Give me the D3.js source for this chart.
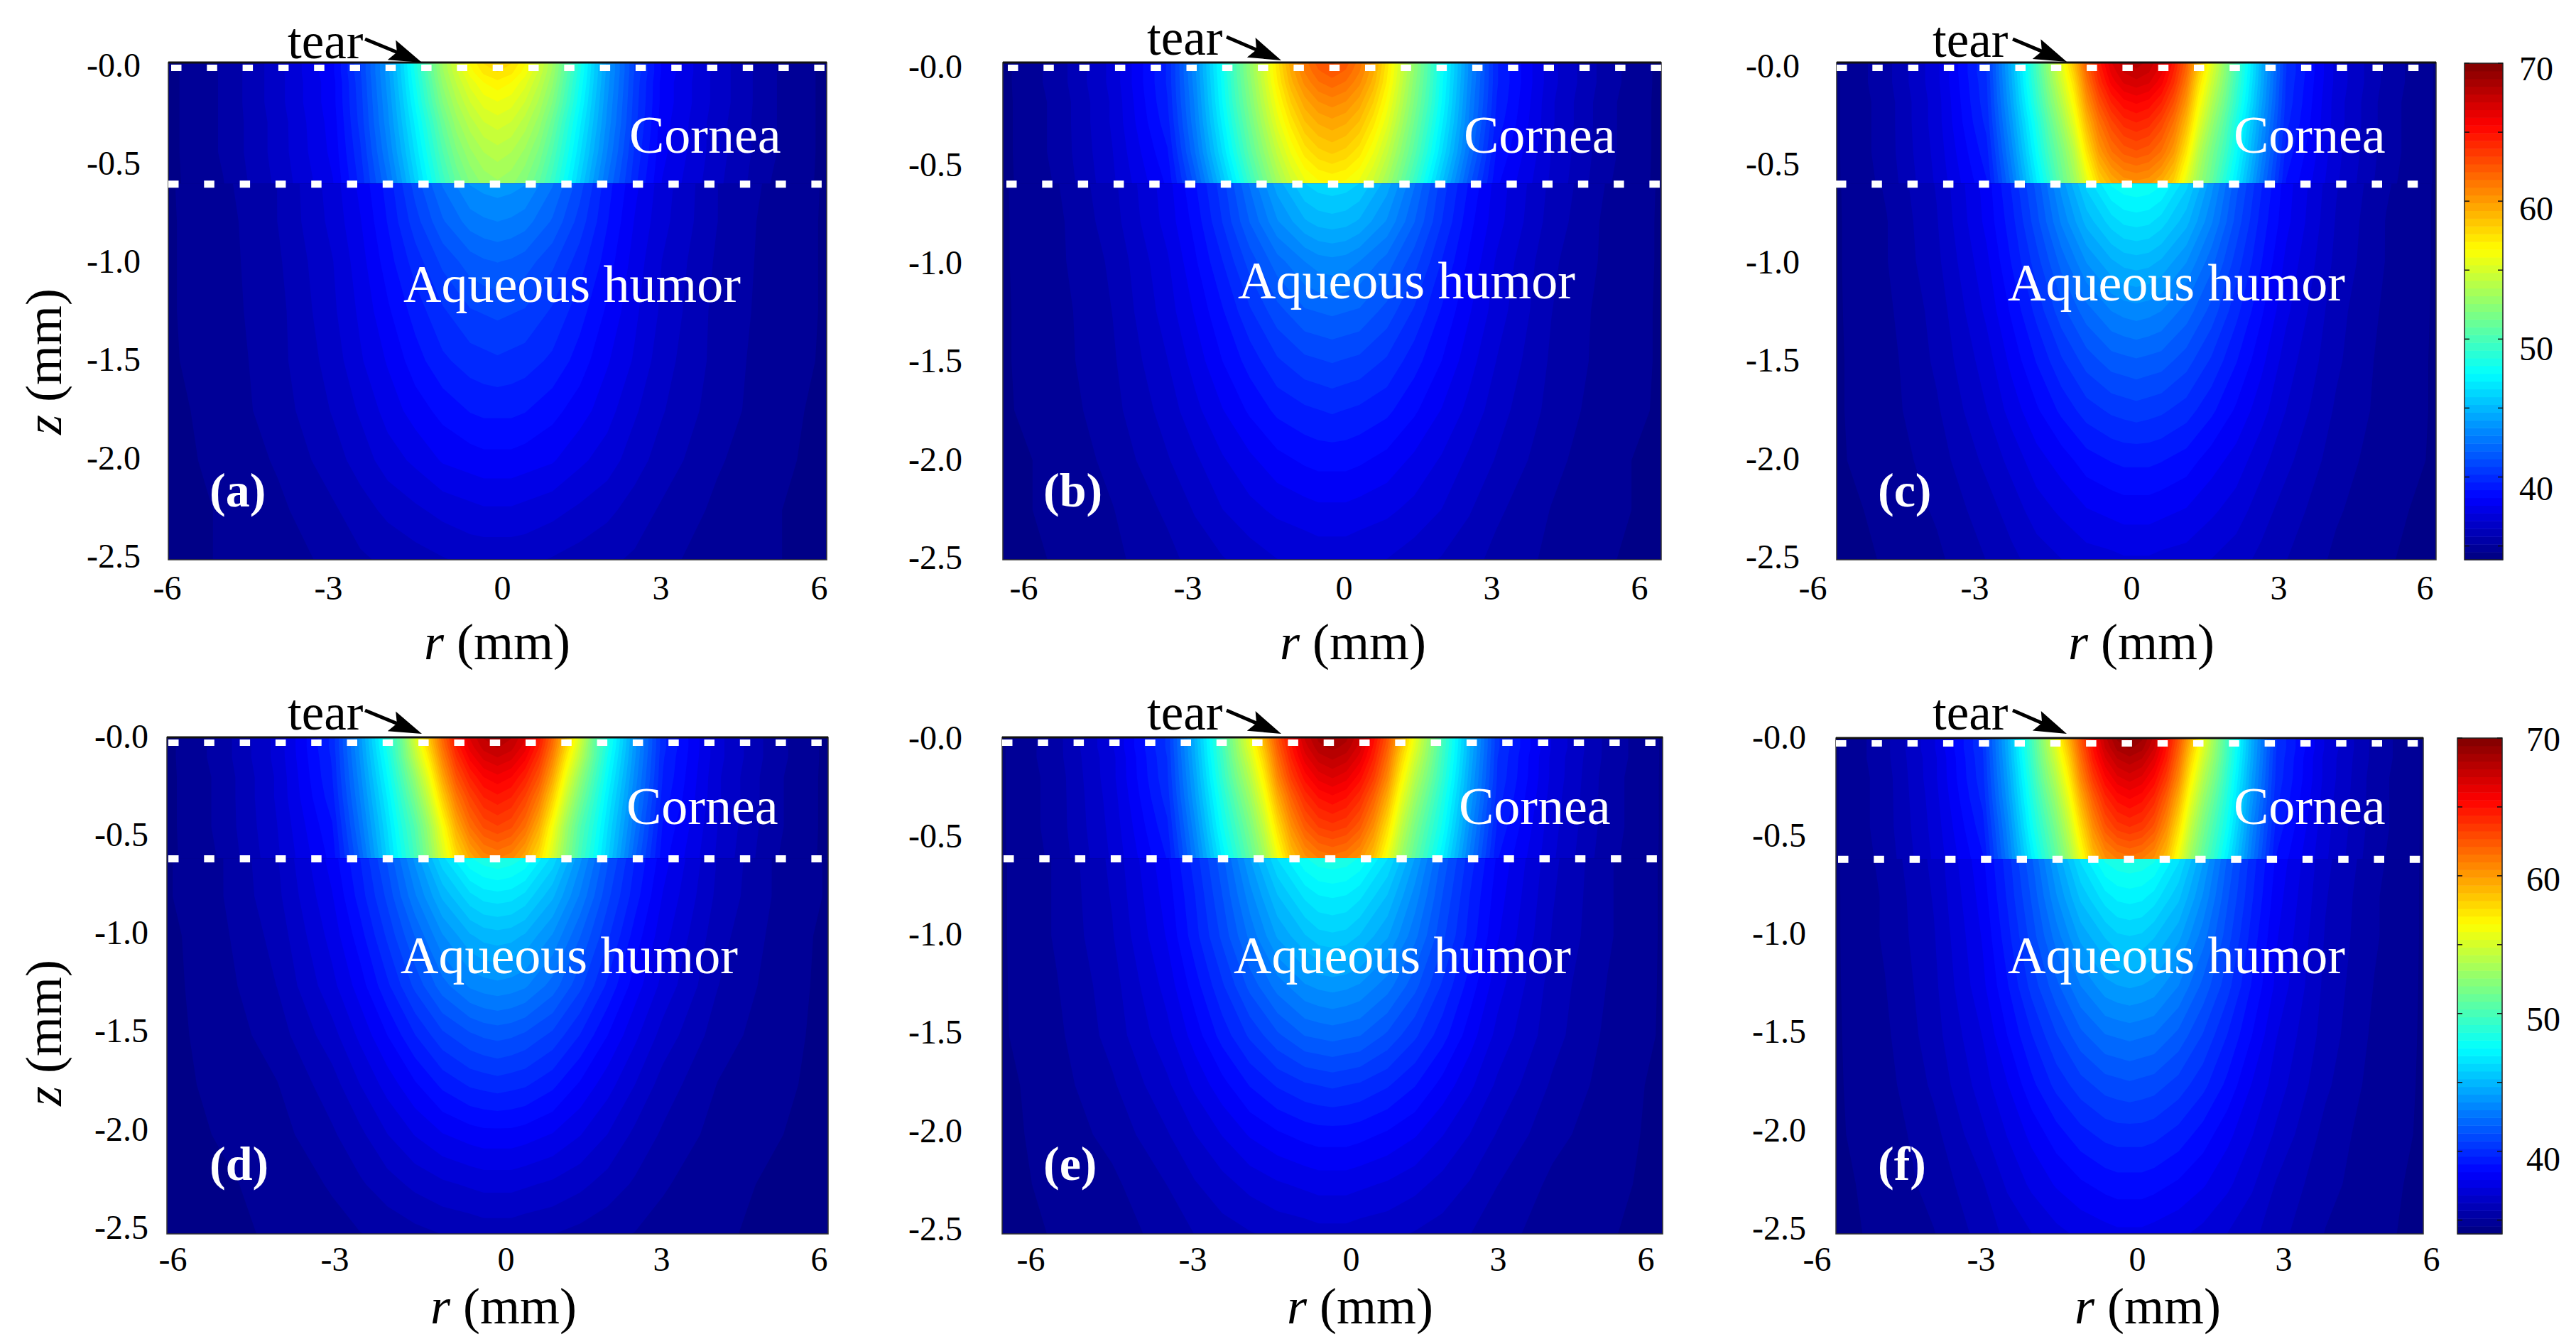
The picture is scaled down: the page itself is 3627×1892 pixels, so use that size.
<!DOCTYPE html>
<meta charset="utf-8">
<script src="https://d3js.org/d3.v7.min.js"></script>
<style>
    html, body { margin: 0; background: #fff; }
    text { font-family: 'Liberation Serif', serif; fill: #000; }
</style>
<div id="my_dataviz"></div>
<script>
// radial positions (mm, only r >= 0, the field is mirrored about r = 0) and depths (mm)
const rCornea = [0, .25, .5, .75, 1, 1.25, 1.5, 1.75, 2, 2.5, 3, 4, 5, 6];
const zCornea = [0, .05, .1, .2, .3, .45, .61];
const rAqueous = [0, .25, .5, 1, 1.5, 2, 2.5, 3, 4, 5, 6];
const zAqueous = [.61, .8, 1, 1.25, 1.5, 1.75, 2, 2.25, 2.5];

// temperatures, one row per depth, one value per radius
const corneaA = [
    [58.2, 57.7, 56.6, 55.0, 53.2, 50.8, 48.4, 46.0, 43.9, 40.7, 38.4, 36.6, 35.2, 34.4],
    [57.6, 57.2, 56.2, 54.7, 53.0, 50.6, 48.2, 45.9, 43.9, 40.7, 38.4, 36.6, 35.2, 34.4],
    [56.9, 56.5, 55.6, 54.3, 52.7, 50.3, 48.0, 45.8, 43.8, 40.6, 38.3, 36.6, 35.2, 34.4],
    [55.9, 55.6, 54.8, 53.6, 52.0, 49.8, 47.6, 45.5, 43.6, 40.5, 38.3, 36.6, 35.2, 34.4],
    [55.1, 54.8, 54.0, 52.9, 51.2, 49.1, 47.1, 45.2, 43.4, 40.4, 38.2, 36.5, 35.2, 34.4],
    [54.0, 53.7, 53.0, 51.9, 50.3, 48.4, 46.5, 44.7, 43.0, 40.1, 38.1, 36.5, 35.2, 34.4],
    [53.0, 52.7, 52.0, 50.9, 49.4, 47.6, 45.8, 44.0, 42.4, 39.8, 37.9, 36.4, 35.1, 34.4]
];
const aqueousA = [
    [43.9, 43.8, 43.6, 42.5, 41.0, 39.3, 38.1, 37.1, 35.7, 35.0, 34.5],
    [43.0, 42.9, 42.7, 41.8, 40.5, 39.1, 37.9, 37.0, 35.7, 34.9, 34.5],
    [41.9, 41.8, 41.6, 40.9, 39.9, 38.8, 37.7, 36.8, 35.6, 34.9, 34.5],
    [40.9, 40.8, 40.7, 40.1, 39.3, 38.4, 37.5, 36.7, 35.5, 34.9, 34.5],
    [40.1, 40.0, 39.9, 39.5, 38.8, 38.0, 37.3, 36.5, 35.5, 34.8, 34.5],
    [39.2, 39.2, 39.1, 38.7, 38.2, 37.6, 36.9, 36.3, 35.4, 34.8, 34.4],
    [38.3, 38.3, 38.2, 38.0, 37.5, 37.1, 36.5, 36.0, 35.2, 34.7, 34.4],
    [37.3, 37.3, 37.2, 37.0, 36.7, 36.4, 36.0, 35.6, 35.0, 34.6, 34.4],
    [36.4, 36.4, 36.4, 36.2, 36.0, 35.8, 35.6, 35.3, 34.8, 34.6, 34.4]
];
const corneaB = [
    [62.8, 62.4, 61.3, 59.7, 57.4, 54.9, 52.6, 50.3, 47.9, 43.4, 39.7, 37.0, 35.4, 34.4],
    [62.4, 62.0, 61.0, 59.4, 57.2, 54.8, 52.5, 50.2, 47.8, 43.4, 39.7, 37.0, 35.4, 34.4],
    [61.9, 61.5, 60.6, 59.1, 57.0, 54.6, 52.3, 50.1, 47.7, 43.3, 39.7, 37.0, 35.4, 34.4],
    [60.7, 60.4, 59.6, 58.2, 56.3, 54.1, 51.9, 49.8, 47.5, 43.1, 39.6, 36.9, 35.3, 34.4],
    [59.7, 59.4, 58.7, 57.3, 55.6, 53.5, 51.4, 49.3, 47.1, 42.9, 39.4, 36.9, 35.3, 34.4],
    [58.3, 58.0, 57.3, 56.0, 54.4, 52.5, 50.6, 48.5, 46.4, 42.4, 39.0, 36.8, 35.3, 34.4],
    [56.5, 56.3, 55.7, 54.6, 53.1, 51.3, 49.4, 47.3, 45.3, 41.5, 38.6, 36.7, 35.2, 34.4]
];
const aqueousB = [
    [46.2, 46.1, 45.8, 44.4, 42.5, 40.5, 39.0, 37.7, 36.1, 35.1, 34.5],
    [45.0, 44.9, 44.6, 43.5, 41.9, 40.2, 38.7, 37.6, 36.0, 35.0, 34.5],
    [43.4, 43.3, 43.0, 42.2, 41.0, 39.6, 38.4, 37.3, 35.8, 35.0, 34.5],
    [42.0, 41.9, 41.8, 41.1, 40.1, 39.0, 38.0, 37.1, 35.7, 34.9, 34.5],
    [40.8, 40.7, 40.6, 40.1, 39.3, 38.5, 37.6, 36.8, 35.6, 34.9, 34.5],
    [39.7, 39.6, 39.5, 39.2, 38.6, 37.9, 37.2, 36.5, 35.5, 34.8, 34.5],
    [38.7, 38.7, 38.6, 38.3, 37.8, 37.3, 36.7, 36.2, 35.3, 34.7, 34.4],
    [37.8, 37.8, 37.7, 37.5, 37.2, 36.8, 36.3, 35.8, 35.1, 34.7, 34.4],
    [37.0, 37.0, 36.9, 36.8, 36.5, 36.2, 35.9, 35.5, 35.0, 34.6, 34.4]
];
const corneaC = [
    [68.0, 67.6, 66.6, 64.7, 62.2, 58.8, 55.6, 52.8, 49.9, 44.8, 40.2, 37.2, 35.5, 34.5],
    [67.6, 67.2, 66.2, 64.3, 61.8, 58.2, 55.2, 52.6, 49.8, 44.7, 40.2, 37.2, 35.5, 34.5],
    [67.0, 66.7, 65.7, 63.9, 61.3, 57.6, 54.8, 52.3, 49.6, 44.6, 40.1, 37.2, 35.5, 34.5],
    [65.6, 65.3, 64.4, 62.7, 60.2, 56.6, 53.9, 51.6, 49.1, 44.3, 40.0, 37.1, 35.4, 34.5],
    [64.4, 64.1, 63.1, 61.5, 59.0, 55.6, 53.0, 50.8, 48.4, 43.9, 39.8, 37.1, 35.4, 34.5],
    [62.6, 62.3, 61.5, 60.0, 57.3, 54.0, 51.8, 49.9, 47.7, 43.3, 39.4, 37.0, 35.4, 34.5],
    [60.2, 60.0, 59.2, 57.9, 55.4, 52.9, 51.0, 48.8, 46.8, 42.6, 39.0, 36.9, 35.3, 34.5]
];
const aqueousC = [
    [48.0, 47.9, 47.6, 46.0, 43.8, 41.5, 39.7, 38.2, 36.3, 35.2, 34.5],
    [46.6, 46.5, 46.1, 44.9, 43.1, 41.1, 39.4, 38.1, 36.2, 35.1, 34.5],
    [45.0, 44.9, 44.6, 43.6, 42.1, 40.5, 39.1, 37.8, 36.1, 35.1, 34.5],
    [43.3, 43.2, 43.0, 42.2, 41.1, 39.8, 38.6, 37.5, 35.9, 35.0, 34.5],
    [41.8, 41.7, 41.6, 41.0, 40.1, 39.1, 38.1, 37.1, 35.8, 34.9, 34.5],
    [40.5, 40.4, 40.3, 39.9, 39.2, 38.4, 37.6, 36.8, 35.6, 34.9, 34.5],
    [39.2, 39.2, 39.1, 38.8, 38.2, 37.7, 37.0, 36.4, 35.4, 34.8, 34.5],
    [38.2, 38.2, 38.1, 37.9, 37.5, 37.1, 36.5, 36.0, 35.2, 34.7, 34.4],
    [37.3, 37.3, 37.2, 37.1, 36.8, 36.5, 36.1, 35.7, 35.0, 34.6, 34.4]
];
const corneaD = [
    [68.2, 67.8, 66.7, 64.8, 62.0, 58.4, 55.0, 51.2, 48.5, 43.8, 39.8, 37.0, 35.4, 34.4],
    [67.8, 67.4, 66.3, 64.4, 61.5, 57.9, 54.5, 51.0, 48.3, 43.7, 39.8, 37.0, 35.4, 34.4],
    [67.2, 66.8, 65.7, 63.8, 60.9, 57.2, 54.0, 50.8, 48.0, 43.6, 39.7, 37.0, 35.4, 34.4],
    [65.9, 65.5, 64.4, 62.6, 59.6, 55.8, 52.7, 50.0, 47.5, 43.3, 39.6, 36.9, 35.3, 34.4],
    [64.8, 64.4, 63.2, 61.3, 58.2, 54.6, 51.7, 49.3, 47.0, 43.0, 39.4, 36.9, 35.3, 34.4],
    [63.2, 62.8, 61.6, 59.4, 56.2, 53.0, 50.4, 48.5, 46.4, 42.5, 39.0, 36.8, 35.3, 34.4],
    [61.0, 60.6, 59.4, 57.6, 55.0, 52.2, 49.8, 47.9, 45.9, 41.9, 38.7, 36.7, 35.2, 34.4]
];
const aqueousD = [
    [48.6, 48.4, 48.0, 46.2, 43.7, 41.4, 39.6, 38.2, 36.2, 35.1, 34.5],
    [46.7, 46.6, 46.2, 44.8, 42.9, 40.9, 39.3, 37.9, 36.1, 35.1, 34.5],
    [45.0, 44.9, 44.6, 43.5, 41.9, 40.3, 38.8, 37.6, 35.9, 35.0, 34.4],
    [43.4, 43.3, 43.1, 42.2, 40.9, 39.5, 38.2, 37.2, 35.7, 34.9, 34.4],
    [41.5, 41.4, 41.2, 40.6, 39.6, 38.5, 37.5, 36.6, 35.4, 34.8, 34.4],
    [39.9, 39.8, 39.7, 39.2, 38.4, 37.6, 36.8, 36.0, 35.1, 34.7, 34.4],
    [38.3, 38.3, 38.2, 37.9, 37.4, 36.8, 36.1, 35.6, 34.9, 34.6, 34.4],
    [37.0, 37.0, 36.9, 36.7, 36.4, 36.0, 35.6, 35.2, 34.7, 34.5, 34.4],
    [35.9, 35.9, 35.8, 35.7, 35.5, 35.3, 35.1, 34.9, 34.6, 34.5, 34.4]
];
const corneaE = [
    [69.0, 68.5, 67.3, 65.2, 62.6, 59.2, 55.8, 52.8, 49.9, 44.8, 40.3, 37.3, 35.5, 34.5],
    [68.5, 68.1, 66.9, 64.8, 62.2, 58.6, 55.4, 52.6, 49.8, 44.7, 40.3, 37.3, 35.5, 34.5],
    [67.9, 67.5, 66.4, 64.4, 61.7, 58.0, 54.9, 52.3, 49.6, 44.6, 40.2, 37.2, 35.5, 34.5],
    [66.7, 66.3, 65.2, 63.4, 60.7, 56.9, 53.9, 51.6, 49.2, 44.3, 40.1, 37.2, 35.4, 34.5],
    [65.4, 65.0, 64.0, 62.1, 59.4, 55.8, 53.0, 50.8, 48.6, 44.0, 39.9, 37.1, 35.4, 34.5],
    [63.6, 63.3, 62.3, 60.4, 57.6, 54.3, 51.8, 49.8, 47.9, 43.4, 39.5, 37.0, 35.4, 34.5],
    [61.3, 61.0, 60.2, 58.6, 55.9, 53.0, 50.8, 48.9, 47.0, 42.8, 39.1, 36.9, 35.3, 34.5]
];
const aqueousE = [
    [48.5, 48.4, 48.0, 46.4, 44.1, 41.7, 39.9, 38.4, 36.4, 35.2, 34.5],
    [47.0, 46.9, 46.5, 45.2, 43.3, 41.3, 39.6, 38.2, 36.3, 35.2, 34.5],
    [45.7, 45.6, 45.2, 44.2, 42.6, 40.9, 39.4, 38.0, 36.2, 35.2, 34.5],
    [43.8, 43.7, 43.5, 42.7, 41.5, 40.1, 38.8, 37.6, 36.0, 35.1, 34.5],
    [42.1, 42.0, 41.9, 41.2, 40.3, 39.3, 38.2, 37.2, 35.9, 35.0, 34.5],
    [40.3, 40.2, 40.1, 39.7, 39.1, 38.3, 37.5, 36.7, 35.6, 34.9, 34.4],
    [38.8, 38.8, 38.7, 38.4, 38.0, 37.4, 36.8, 36.2, 35.3, 34.8, 34.4],
    [37.6, 37.6, 37.5, 37.3, 37.0, 36.6, 36.2, 35.7, 35.0, 34.7, 34.4],
    [36.6, 36.6, 36.5, 36.4, 36.2, 36.0, 35.7, 35.3, 34.9, 34.6, 34.4]
];
const corneaF = [
    [69.6, 69.0, 67.6, 65.4, 62.6, 59.2, 55.8, 52.8, 49.8, 44.6, 40.2, 37.3, 35.5, 34.5],
    [69.0, 68.5, 67.2, 65.0, 62.2, 58.6, 55.4, 52.6, 49.7, 44.5, 40.2, 37.3, 35.5, 34.5],
    [68.2, 67.8, 66.6, 64.6, 61.7, 58.0, 54.9, 52.3, 49.5, 44.4, 40.1, 37.2, 35.5, 34.5],
    [66.9, 66.5, 65.4, 63.5, 60.7, 56.9, 53.9, 51.6, 49.0, 44.1, 40.0, 37.2, 35.4, 34.5],
    [65.6, 65.2, 64.2, 62.2, 59.4, 55.8, 53.0, 50.8, 48.5, 43.8, 39.8, 37.1, 35.4, 34.5],
    [63.8, 63.5, 62.5, 60.5, 57.6, 54.3, 51.8, 49.8, 47.8, 43.2, 39.4, 37.0, 35.4, 34.5],
    [61.3, 61.0, 60.3, 58.7, 55.9, 53.0, 50.8, 48.9, 46.9, 42.7, 39.0, 36.9, 35.3, 34.5]
];
const aqueousF = [
    [48.6, 48.5, 48.2, 46.5, 44.2, 41.8, 39.9, 38.4, 36.4, 35.3, 34.5],
    [47.2, 47.1, 46.7, 45.4, 43.5, 41.4, 39.7, 38.2, 36.3, 35.2, 34.5],
    [45.8, 45.7, 45.3, 44.3, 42.7, 41.0, 39.4, 38.0, 36.2, 35.2, 34.5],
    [44.2, 44.1, 43.9, 43.0, 41.7, 40.4, 39.0, 37.8, 36.1, 35.1, 34.5],
    [42.6, 42.5, 42.4, 41.7, 40.7, 39.6, 38.5, 37.4, 36.0, 35.0, 34.5],
    [41.2, 41.1, 41.0, 40.5, 39.8, 38.9, 37.9, 37.1, 35.8, 34.9, 34.5],
    [39.9, 39.9, 39.8, 39.4, 38.8, 38.1, 37.4, 36.7, 35.5, 34.8, 34.5],
    [38.8, 38.8, 38.7, 38.4, 38.0, 37.5, 36.9, 36.2, 35.3, 34.8, 34.4],
    [37.8, 37.8, 37.7, 37.5, 37.2, 36.8, 36.4, 35.9, 35.1, 34.7, 34.4]
];

const rTicks = [-6, -3, 0, 3, 6];
const zTicks = [0, .5, 1, 1.5, 2, 2.5];
const barTicks = [35, 40, 45, 50, 55, 60, 65, 70];
const barLabels = [40, 50, 60, 70];

// color levels of the filled contours
const tMin = 34, tMax = 70, nLevels = 64;
const levels = d3.range(nLevels).map(i => tMin + i * (tMax - tMin) / nLevels);
const step = (tMax - tMin) / nLevels;
const jet = d3.scaleLinear()
    .domain([0, 1 / 8, 3 / 8, 5 / 8, 7 / 8, 1].map(t => tMin + t * (tMax - tMin)))
    .range(["#00007f", "#0000ff", "#00ffff", "#ffff00", "#ff0000", "#7f0000"]);

// where each panel sits on the page
const panels = [
    {
        name: "a", cornea: corneaA, aqueous: aqueousA, x0: 237, x1: 1164, y0: 88, y1: 788,
        rLabels: [235, 462, 707, 930, 1153], rBase: 844, zRight: 198, zLabels: [92, 783],
        dash0: 241, dash1: 237, tear: [405, 82], arrow: [514, 55, 594, 88],
        corneaText: [886, 215], aqueousText: [568, 425], letter: [295, 713],
        rTitle: [700, 928], zTitle: 509
    },
    {
        name: "b", cornea: corneaB, aqueous: aqueousB, x0: 1412, x1: 2339, y0: 88, y1: 788,
        rLabels: [1441, 1672, 1892, 2100, 2308], rBase: 844, zRight: 1355, zLabels: [94, 785],
        dash0: 1419, dash1: 1417, tear: [1615, 77], arrow: [1727, 52, 1804, 85],
        corneaText: [2061, 215], aqueousText: [1743, 420], letter: [1469, 713],
        rTitle: [1905, 928]
    },
    {
        name: "c", cornea: corneaC, aqueous: aqueousC, x0: 2586, x1: 3430, y0: 88, y1: 788,
        rLabels: [2552, 2780, 3001, 3208, 3414], rBase: 844, zRight: 2534, zLabels: [93, 784],
        dash0: 2586, dash1: 2585, tear: [2721, 80], arrow: [2834, 55, 2910, 87],
        corneaText: [3145, 215], aqueousText: [2827, 423], letter: [2644, 713],
        rTitle: [3015, 928]
    },
    {
        name: "d", cornea: corneaD, aqueous: aqueousD, x0: 235, x1: 1166, y0: 1038, y1: 1737,
        rLabels: [243, 471, 712, 931, 1153], rBase: 1789, zRight: 209, zLabels: [1037, 1728],
        dash0: 237, dash1: 237, tear: [405, 1027], arrow: [514, 1000, 594, 1033],
        corneaText: [882, 1160], aqueousText: [564, 1370], letter: [295, 1661],
        rTitle: [709, 1863], zTitle: 1454
    },
    {
        name: "e", cornea: corneaE, aqueous: aqueousE, x0: 1411, x1: 2341, y0: 1038, y1: 1737,
        rLabels: [1451, 1679, 1902, 2109, 2317], rBase: 1789, zRight: 1355, zLabels: [1039, 1730],
        dash0: 1411, dash1: 1413, tear: [1615, 1027], arrow: [1727, 1000, 1804, 1033],
        corneaText: [2054, 1160], aqueousText: [1737, 1370], letter: [1469, 1661],
        rTitle: [1915, 1863]
    },
    {
        name: "f", cornea: corneaF, aqueous: aqueousF, x0: 2585, x1: 3412, y0: 1039, y1: 1737,
        rLabels: [2558, 2789, 3009, 3215, 3423], rBase: 1789, zRight: 2543, zLabels: [1038, 1729],
        dash0: 2585, dash1: 2588, tear: [2721, 1027], arrow: [2834, 1000, 2910, 1033],
        corneaText: [3145, 1160], aqueousText: [2827, 1370], letter: [2644, 1661],
        rTitle: [3024, 1863]
    }
];

const colorbars = [
    {x0: 3470, x1: 3524, y0: 89, y1: 788, labelX: 3547, labelY: [689, 98]},
    {x0: 3460, x1: 3523, y0: 1039, y1: 1737, labelX: 3557, labelY: [1633, 1042]}
];

const svg = d3.select("#my_dataviz")
    .append("svg")
    .attr("width", 3627)
    .attr("height", 1892)
    .style("display", "block");

// mirror the half-profile table about r = 0 and draw it as stacked filled contours
function drawField(g, table, rHalf, zRows, x, y) {
    const rFull = [...rHalf.slice(1).reverse().map(d => -d), ...rHalf];
    const values = table.flatMap(row => [...row.slice(1).reverse(), ...row]);
    const n = rFull.length, m = zRows.length;

    // the grid is not uniform: contour coordinates go index -> mm -> pixels
    const iToR = d3.scaleLinear().domain(d3.range(n)).range(rFull).clamp(true);
    const jToZ = d3.scaleLinear().domain(d3.range(m)).range(zRows).clamp(true);
    const path = d3.geoPath(d3.geoTransform({
        point: function (a, b) {
            this.stream.point(x(iToR(a - .5)), y(jToZ(b - .5)));
        }
    }));

    const contours = d3.contours().size([n, m]).thresholds(levels)(values);
    g.selectAll(null)
        .data(contours)
        .enter().append("path")
        .attr("d", path)
        .attr("fill", d => jet(d.value + step / 2));
}

panels.forEach(function (p) {
    const g = svg.append("g");

    const x = d3.scaleLinear().domain([-6, 6]).range([p.x0, p.x1]);
    const y = d3.scaleLinear().domain([0, 2.5]).range([p.y0, p.y1]);

    g.append("rect")
        .attr("x", p.x0).attr("y", p.y0)
        .attr("width", p.x1 - p.x0).attr("height", p.y1 - p.y0)
        .attr("fill", jet(35));

    drawField(g, p.cornea, rCornea, zCornea, x, y);
    drawField(g, p.aqueous, rAqueous, zAqueous, x, y);

    // frame
    g.append("rect")
        .attr("x", p.x0).attr("y", p.y0)
        .attr("width", p.x1 - p.x0).attr("height", p.y1 - p.y0)
        .attr("fill", "none").attr("stroke", "#333").attr("stroke-width", 1.5);
    g.append("line")
        .attr("x1", p.x0).attr("x2", p.x1)
        .attr("y1", p.y0).attr("y2", p.y0)
        .attr("stroke", "#111").attr("stroke-width", 3);

    // white dashed lines at the tear film and at the cornea boundary
    [[p.y0 + 7.5, p.dash0, 9], [y(zCornea[zCornea.length - 1]) + .5, p.dash1, 10]].forEach(function (d) {
        g.append("line")
            .attr("x1", d[1]).attr("x2", p.x1)
            .attr("y1", d[0]).attr("y2", d[0])
            .attr("stroke", "#fff")
            .attr("stroke-width", d[2])
            .attr("stroke-dasharray", "14.5 35.8");
    });

    // tick labels are placed by hand in the original, so the label scales are piecewise
    const xLabels = d3.scaleLinear().domain(rTicks).range(p.rLabels);
    const yLabels = d3.scaleLinear().domain([0, 2.5]).range(p.zLabels);

    const xAxis = g.append("g")
        .attr("transform", "translate(0," + (p.rBase - 34) + ")")
        .call(d3.axisBottom(xLabels).tickValues(rTicks).tickSize(0).tickPadding(0)
            .tickFormat(d => d));
    const yAxis = g.append("g")
        .attr("transform", "translate(" + p.zRight + ",0)")
        .call(d3.axisLeft(yLabels).tickValues(zTicks).tickSize(0).tickPadding(0)
            .tickFormat(d => "-" + d.toFixed(1)));
    [xAxis, yAxis].forEach(function (a) {
        a.select(".domain").remove();
        a.selectAll("text")
            .style("font-family", "'Liberation Serif', serif")
            .style("font-size", "48px")
            .attr("fill", "#000");
    });

    // axis titles
    const rTitle = g.append("text")
        .attr("x", p.rTitle[0]).attr("y", p.rTitle[1])
        .attr("text-anchor", "middle")
        .style("font-size", "72px");
    rTitle.append("tspan").style("font-style", "italic").text("r");
    rTitle.append("tspan").text(" (mm)");

    if (p.zTitle) {
        const zTitle = g.append("text")
            .attr("transform", "translate(86," + p.zTitle + ") rotate(-90)")
            .attr("text-anchor", "middle")
            .style("font-size", "72px");
        zTitle.append("tspan").style("font-style", "italic").text("z");
        zTitle.append("tspan").text(" (mm)");
    }

    // annotations
    g.append("text")
        .attr("x", p.tear[0]).attr("y", p.tear[1])
        .style("font-size", "71px")
        .text("tear");

    const [ax, ay, bx, by] = p.arrow;
    const len = Math.hypot(bx - ax, by - ay), ux = (bx - ax) / len, uy = (by - ay) / len;
    g.append("line")
        .attr("x1", ax).attr("y1", ay)
        .attr("x2", bx - ux * 30).attr("y2", by - uy * 30)
        .attr("stroke", "#000").attr("stroke-width", 5);
    g.append("path")
        .attr("d", d3.line()([
            [bx, by],
            [bx - ux * 46 + uy * 15, by - uy * 46 - ux * 15],
            [bx - ux * 38, by - uy * 38],
            [bx - ux * 46 - uy * 15, by - uy * 46 + ux * 15]
        ]) + "Z")
        .attr("fill", "#000");

    [["Cornea", p.corneaText, "74px", "normal"],
        ["Aqueous humor", p.aqueousText, "74px", "normal"],
        ["(" + p.name + ")", p.letter, "68px", "bold"]].forEach(function (d) {
        g.append("text")
            .attr("x", d[1][0]).attr("y", d[1][1])
            .style("font-size", d[2])
            .style("font-weight", d[3])
            .style("fill", "#fff")
            .text(d[0]);
    });
});

// color bars
colorbars.forEach(function (c) {
    const g = svg.append("g");
    const y = d3.scaleLinear().domain([tMin, tMax]).range([c.y1, c.y0]);
    const yText = d3.scaleLinear().domain([40, 70]).range(c.labelY);

    g.selectAll(null)
        .data(levels)
        .enter().append("rect")
        .attr("x", c.x0)
        .attr("width", c.x1 - c.x0)
        .attr("y", d => y(d + step))
        .attr("height", d => y(d) - y(d + step) + .5)
        .attr("fill", d => jet(d + step / 2));

    g.append("rect")
        .attr("x", c.x0).attr("y", c.y0)
        .attr("width", c.x1 - c.x0).attr("height", c.y1 - c.y0)
        .attr("fill", "none").attr("stroke", "#222").attr("stroke-width", 1.5);

    barTicks.forEach(function (t) {
        [[c.x0, c.x0 + 7], [c.x1 - 7, c.x1]].forEach(function (e) {
            g.append("line")
                .attr("x1", e[0]).attr("x2", e[1])
                .attr("y1", y(t)).attr("y2", y(t))
                .attr("stroke", "#111").attr("stroke-width", 1.5);
        });
    });

    g.selectAll(null)
        .data(barLabels)
        .enter().append("text")
        .attr("x", c.labelX)
        .attr("y", d => yText(d))
        .attr("dy", ".32em")
        .style("font-size", "48px")
        .text(d => d);
});
</script>
